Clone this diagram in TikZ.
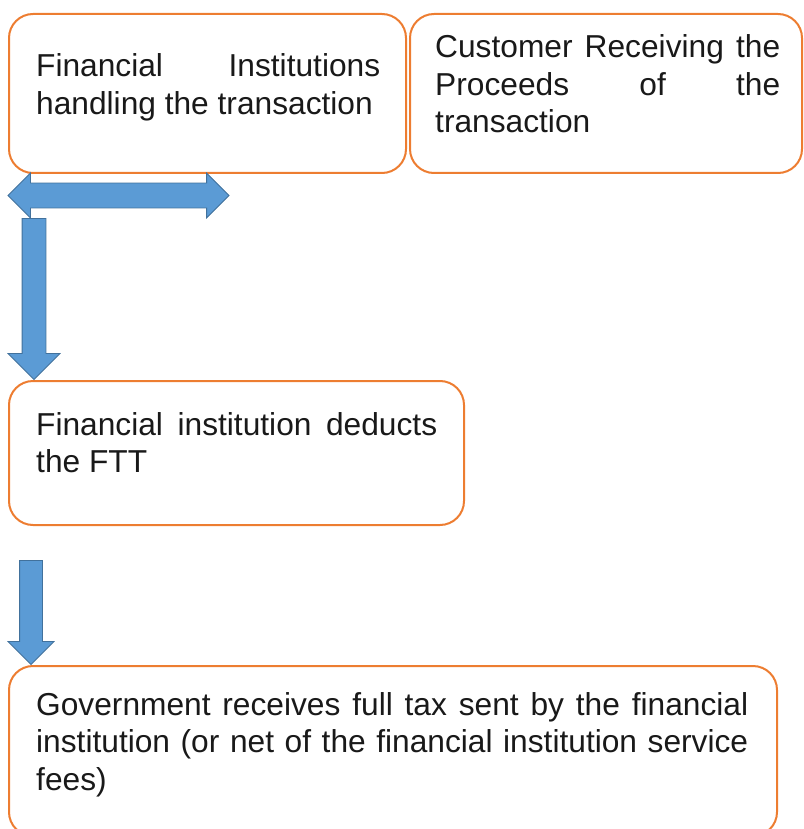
\documentclass[tikz,border=0pt]{standalone}
\usepackage{fontspec}
\setmainfont{Liberation Sans}
\usetikzlibrary{shapes.arrows}

\definecolor{boxorange}{HTML}{ED7D31}
\definecolor{arrowblue}{HTML}{5B9BD5}
\definecolor{arrowedge}{HTML}{41719C}

\begin{document}
\begin{tikzpicture}[x=1pt, y=-1pt,
    box/.style={draw=boxorange, line width=2pt, rounded corners=24pt, anchor=north west, inner sep=0pt},
    txt/.style={anchor=base west, align=justify, inner sep=0pt, font=\fontsize{31.7}{37.5}\selectfont, text=black!90},
    blockarrow/.style={fill=arrowblue, draw=arrowedge, line width=0.8pt, inner xsep=0pt}]
    \useasboundingbox (0,0) rectangle (803,829);

    %Boxes
    \node[box, minimum width=397pt, minimum height=159pt] at (8, 13) (fi) {};
    \node[box, minimum width=392pt, minimum height=159pt] at (409, 13) (cust) {};
    \node[box, minimum width=455pt, minimum height=144pt] at (8, 380) (ded) {};
    \node[box, minimum width=768pt, minimum height=170pt] at (8, 665) (gov) {};

    %Texts
    \node[txt, text width=344pt] at (36, 77) (fitxt) {Financial Institutions\linebreak handling the transaction};
    \node[txt, text width=345pt] at (435, 58) (custtxt) {Customer Receiving the\linebreak Proceeds of the\linebreak transaction};
    \node[txt, text width=401pt] at (36, 435) (dedtxt) {Financial institution deducts\linebreak the FTT};
    \node[txt, text width=712pt] at (36, 715) (govtxt) {Government receives full tax sent by the financial\linebreak institution (or net of the financial institution service\linebreak fees)};

    %Arrows
    \node[blockarrow, double arrow, inner ysep=12pt, minimum width=44pt, minimum height=221pt, double arrow head extend=10pt] at (118.5, 195.5) (swap) {};
    \node[blockarrow, single arrow, rotate=-90, anchor=tip, inner ysep=11.5pt, minimum width=51pt, minimum height=161pt, single arrow head extend=14pt] at ([xshift=26pt]ded.north west) (deduct) {};
    \node[blockarrow, single arrow, rotate=-90, anchor=tip, inner ysep=11pt, minimum width=45pt, minimum height=104pt, single arrow head extend=11.5pt] at ([xshift=23pt]gov.north west) (remit) {};

\end{tikzpicture}
\end{document}
